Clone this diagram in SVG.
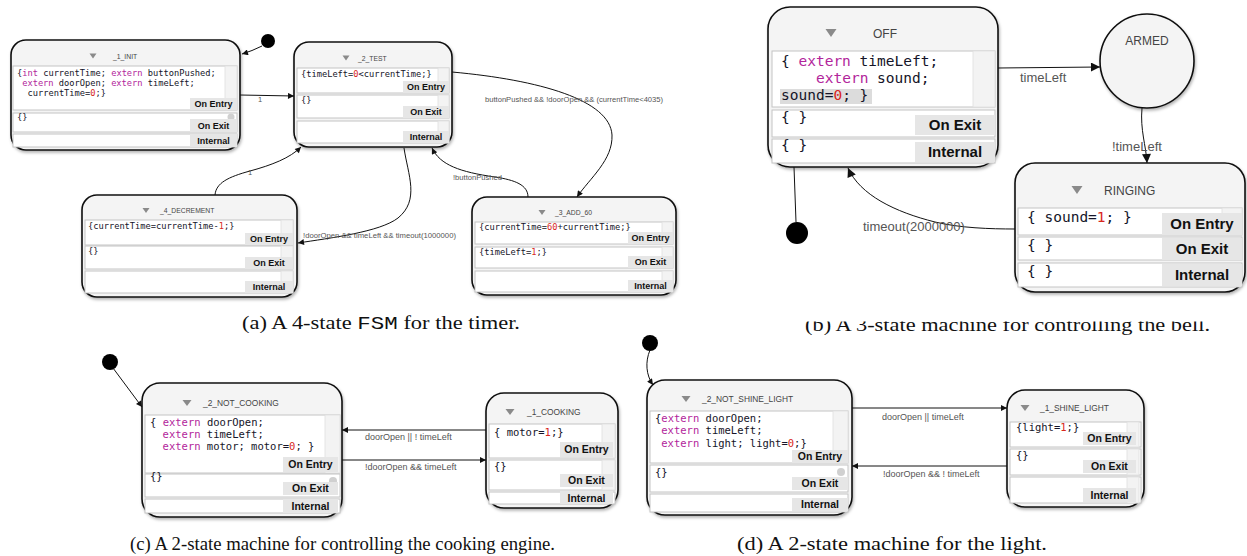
<svg xmlns="http://www.w3.org/2000/svg" width="1247" height="556" viewBox="0 0 1247 556">
<style>
.body{fill:#f4f4f4;stroke:#111;stroke-width:1.6}
.sec{fill:#fff;stroke:#c4c4c4;stroke-width:1}
.scr{fill:#f3f3f3;stroke:#dedede;stroke-width:0.8}
.lbl{fill:#e6e6e6}
.lt{font-family:"Liberation Sans",Arial,sans-serif;font-weight:bold;fill:#111;text-anchor:middle}
.code{font-family:"DejaVu Sans Mono",monospace;fill:#141428}
.kw{fill:#b2259b}
.num{fill:#d8271d}
.title{font-family:"Liberation Sans",Arial,sans-serif;fill:#444}
.tri{fill:#8a8a8a}
.edge{fill:none;stroke:#111;stroke-width:1}
.elab{font-family:"Liberation Sans",Arial,sans-serif;fill:#555}
.cap{font-family:"Liberation Serif","Times New Roman",serif;font-size:18.5px;fill:#111}
.mono{font-family:"Liberation Mono","Courier New",monospace}
.dot{fill:#000}
.knob{fill:#d0d0d0}
.a7 .code{font-size:8.7px}
.a7 .lt{font-size:9px}
.a7 .title{font-size:6.8px}
.b15 .code{font-size:14.5px}
.b15 .lt{font-size:15px}
.b15 .title{font-size:12px}
.c10 .code{font-size:10.5px}
.c10 .lt{font-size:10.5px}
.c10 .title{font-size:8.4px}
</style>
<defs>
<filter id="sh" x="-10%" y="-10%" width="125%" height="130%">
<feDropShadow dx="1" dy="2" stdDeviation="1.5" flood-color="#000" flood-opacity="0.3"/>
</filter>
<marker id="ma" viewBox="0 0 10 10" refX="10" refY="5" markerWidth="9" markerHeight="6" markerUnits="userSpaceOnUse" orient="auto"><path d="M0,0 L10,5 L0,10 z" fill="#111"/></marker>
<marker id="mb" viewBox="0 0 10 10" refX="10" refY="5" markerWidth="13" markerHeight="9" markerUnits="userSpaceOnUse" orient="auto"><path d="M0,0 L10,5 L0,10 z" fill="#111"/></marker>
<clipPath id="capb"><rect x="780" y="321.5" width="460" height="20"/></clipPath>
</defs>
<rect width="1247" height="556" fill="#fff"/>

<!-- ===== Panel (a) ===== -->
<g id="n_1_init" class="a7">
<rect class="body" x="11" y="40" width="229" height="110" rx="15" filter="url(#sh)"/>
<polygon class="tri" points="89.5,53.5 96.5,53.5 93,58.5"/>
<text class="title" x="113" y="58.5">_1_INIT</text>
<rect class="sec" x="13" y="66" width="224" height="44"/>
<rect class="scr" x="225" y="66" width="12" height="44"/>
<text class="code" x="17" y="76">{<tspan class="kw">int</tspan> currentTime; <tspan class="kw">extern</tspan> buttonPushed;</text>
<text class="code" x="22.2" y="86"><tspan class="kw">extern</tspan> doorOpen; <tspan class="kw">extern</tspan> timeLeft;</text>
<text class="code" x="27.5" y="96">currentTime=<tspan class="num">0</tspan>;}</text>
<rect class="lbl" x="190" y="98" width="47" height="12"/>
<text class="lt" x="213.5" y="107.3">On Entry</text>
<rect class="sec" x="13" y="113" width="224" height="19"/>
<text class="code" x="17" y="120">{}</text>
<circle class="knob" cx="231" cy="117" r="3.5"/>
<rect class="lbl" x="190" y="119" width="47" height="13"/>
<text class="lt" x="213.5" y="128.8">On Exit</text>
<rect class="sec" x="13" y="134" width="224" height="13"/>
<rect class="lbl" x="190" y="134" width="47" height="13"/>
<text class="lt" x="213.5" y="143.8">Internal</text>
</g>

<g id="n_2_test" class="a7">
<rect class="body" x="294" y="42" width="158" height="105" rx="15" filter="url(#sh)"/>
<polygon class="tri" points="342.5,55.5 349.5,55.5 346,60.5"/>
<text class="title" x="358" y="60.5">_2_TEST</text>
<rect class="sec" x="297" y="68" width="152" height="25"/>
<rect class="scr" x="438" y="68" width="11" height="25"/>
<text class="code" x="301" y="77">{timeLeft=<tspan class="num">0</tspan>&lt;currentTime;}</text>
<rect class="lbl" x="403" y="81" width="46" height="12"/>
<text class="lt" x="426" y="90.3">On Entry</text>
<rect class="sec" x="297" y="95" width="152" height="23"/>
<rect class="scr" x="438" y="95" width="11" height="23"/>
<text class="code" x="301" y="103">{}</text>
<rect class="lbl" x="403" y="106" width="46" height="12"/>
<text class="lt" x="426" y="115.3">On Exit</text>
<rect class="sec" x="297" y="121" width="152" height="22"/>
<rect class="scr" x="438" y="121" width="11" height="22"/>
<rect class="lbl" x="403" y="131" width="46" height="12"/>
<text class="lt" x="426" y="140.3">Internal</text>
</g>

<g id="n_4_decrement" class="a7">
<rect class="body" x="82" y="195" width="215" height="102" rx="15" filter="url(#sh)"/>
<polygon class="tri" points="142.5,208 149.5,208 146,213"/>
<text class="title" x="160" y="212.5">_4_DECREMENT</text>
<rect class="sec" x="85" y="220" width="208" height="25"/>
<rect class="scr" x="281" y="220" width="12" height="25"/>
<text class="code" x="88" y="229">{currentTime=currentTime-<tspan class="num">1</tspan>;}</text>
<rect class="lbl" x="245" y="233" width="48" height="12"/>
<text class="lt" x="269" y="242.3">On Entry</text>
<rect class="sec" x="85" y="246" width="208" height="23"/>
<rect class="scr" x="281" y="246" width="12" height="23"/>
<text class="code" x="88" y="254">{}</text>
<rect class="lbl" x="245" y="257" width="48" height="12"/>
<text class="lt" x="269" y="266.3">On Exit</text>
<rect class="sec" x="85" y="271" width="208" height="22"/>
<rect class="scr" x="281" y="271" width="12" height="22"/>
<rect class="lbl" x="245" y="281" width="48" height="12"/>
<text class="lt" x="269" y="290.3">Internal</text>
</g>

<g id="n_3_add_60" class="a7">
<rect class="body" x="472" y="197" width="204" height="98" rx="15" filter="url(#sh)"/>
<polygon class="tri" points="538.5,210 545.5,210 542,215"/>
<text class="title" x="555" y="214.5">_3_ADD_60</text>
<rect class="sec" x="475" y="222" width="198" height="22"/>
<rect class="scr" x="662" y="222" width="11" height="22"/>
<text class="code" x="479" y="230">{currentTime=<tspan class="num">60</tspan>+currentTime;}</text>
<rect class="lbl" x="628" y="232" width="45" height="12"/>
<text class="lt" x="650.5" y="241.3">On Entry</text>
<rect class="sec" x="475" y="247" width="198" height="21"/>
<rect class="scr" x="662" y="247" width="11" height="21"/>
<text class="code" x="479" y="255">{timeLeft=<tspan class="num">1</tspan>;}</text>
<rect class="lbl" x="628" y="256" width="45" height="12"/>
<text class="lt" x="650.5" y="265.3">On Exit</text>
<rect class="sec" x="475" y="271" width="198" height="21"/>
<rect class="scr" x="662" y="271" width="11" height="21"/>
<rect class="lbl" x="628" y="280" width="45" height="12"/>
<text class="lt" x="650.5" y="289.3">Internal</text>
</g>

<g id="init_a"><circle class="dot" cx="268" cy="41" r="7"/></g>

<!-- ===== Panel (b) ===== -->
<g id="n_off" class="b15">
<rect class="body" x="768" y="7" width="230" height="160" rx="22" filter="url(#sh)"/>
<polygon class="tri" points="825.5,29 836.5,29 831,37"/>
<text class="title" x="873" y="37.5">OFF</text>
<rect class="sec" x="772" y="51" width="223" height="56"/>
<rect class="scr" x="973" y="51" width="22" height="56"/>
<text class="code" x="781" y="66">{ <tspan class="kw">extern</tspan> timeLeft;</text>
<text class="code" x="816" y="83"><tspan class="kw">extern</tspan> sound;</text>
<rect x="780" y="89" width="92" height="15" fill="#dcdcdc"/>
<text class="code" x="781" y="100">sound=<tspan class="num">0</tspan>; }</text>
<rect class="sec" x="772" y="110" width="223" height="27"/>
<text class="code" x="781" y="122">{ }</text>
<rect class="lbl" x="915" y="115" width="80" height="20"/>
<text class="lt" x="955" y="130">On Exit</text>
<rect class="sec" x="772" y="139" width="223" height="24"/>
<text class="code" x="781" y="150">{ }</text>
<rect class="lbl" x="915" y="142" width="80" height="20"/>
<text class="lt" x="955" y="157">Internal</text>
</g>

<g id="n_armed" class="b15">
<circle class="body" cx="1147" cy="61" r="47" filter="url(#sh)"/>
<text class="title" x="1147" y="45" text-anchor="middle">ARMED</text>
</g>

<g id="n_ringing" class="b15">
<rect class="body" x="1015" y="163" width="230" height="129" rx="20" filter="url(#sh)"/>
<polygon class="tri" points="1071.5,186 1082.5,186 1077,194"/>
<text class="title" x="1104" y="195">RINGING</text>
<rect class="sec" x="1018" y="208" width="224" height="27"/>
<rect class="scr" x="1222" y="208" width="20" height="27"/>
<text class="code" x="1027" y="222">{ sound=<tspan class="num">1</tspan>; }</text>
<rect class="lbl" x="1162" y="213" width="80" height="22"/>
<text class="lt" x="1202" y="229">On Entry</text>
<rect class="sec" x="1018" y="237" width="224" height="23"/>
<text class="code" x="1027" y="250">{ }</text>
<rect class="lbl" x="1162" y="238" width="80" height="22"/>
<text class="lt" x="1202" y="254">On Exit</text>
<rect class="sec" x="1018" y="263" width="224" height="24"/>
<text class="code" x="1027" y="276">{ }</text>
<rect class="lbl" x="1162" y="264" width="80" height="22"/>
<text class="lt" x="1202" y="280">Internal</text>
</g>

<g id="init_b"><circle class="dot" cx="797" cy="233" r="11"/></g>

<!-- ===== Panel (c) ===== -->
<g id="n_2_not_cooking" class="c10">
<rect class="body" x="142" y="383" width="200" height="134" rx="18" filter="url(#sh)"/>
<polygon class="tri" points="182.5,400 191.5,400 187,406"/>
<text class="title" x="203" y="406">_2_NOT_COOKING</text>
<rect class="sec" x="145" y="415" width="195" height="58"/>
<rect class="scr" x="325" y="415" width="15" height="58"/>
<text class="code" x="150" y="426">{ <tspan class="kw">extern</tspan> doorOpen;</text>
<text class="code" x="162.6" y="438"><tspan class="kw">extern</tspan> timeLeft;</text>
<text class="code" x="162.6" y="450"><tspan class="kw">extern</tspan> motor; motor=<tspan class="num">0</tspan>; }</text>
<rect class="lbl" x="283" y="457" width="55" height="15"/>
<text class="lt" x="310.5" y="468">On Entry</text>
<rect class="sec" x="145" y="474" width="195" height="23"/>
<text class="code" x="150" y="480">{}</text>
<circle class="knob" cx="333" cy="481" r="4"/>
<rect class="lbl" x="283" y="482" width="55" height="13"/>
<text class="lt" x="310.5" y="492.3">On Exit</text>
<rect class="sec" x="145" y="499" width="195" height="14"/>
<rect class="lbl" x="283" y="499" width="55" height="14"/>
<text class="lt" x="310.5" y="510">Internal</text>
</g>

<g id="n_1_cooking" class="c10">
<rect class="body" x="486" y="393" width="132" height="115" rx="18" filter="url(#sh)"/>
<polygon class="tri" points="505.5,409 514.5,409 510,415"/>
<text class="title" x="527" y="415">_1_COOKING</text>
<rect class="sec" x="489" y="424" width="126" height="34"/>
<rect class="scr" x="602" y="424" width="13" height="34"/>
<text class="code" x="494" y="436">{ motor=<tspan class="num">1</tspan>;}</text>
<rect class="lbl" x="560" y="442" width="53" height="15"/>
<text class="lt" x="586.5" y="453">On Entry</text>
<rect class="sec" x="489" y="460" width="126" height="30"/>
<rect class="scr" x="602" y="460" width="13" height="30"/>
<text class="code" x="494" y="470">{}</text>
<rect class="lbl" x="560" y="474" width="53" height="13"/>
<text class="lt" x="586.5" y="484.3">On Exit</text>
<rect class="sec" x="489" y="492" width="126" height="12"/>
<rect class="lbl" x="560" y="491" width="53" height="13"/>
<text class="lt" x="586.5" y="501.5">Internal</text>
</g>

<g id="init_c"><circle class="dot" cx="110" cy="362" r="8"/></g>

<!-- ===== Panel (d) ===== -->
<g id="n_2_not_shine_light" class="c10">
<rect class="body" x="647" y="380" width="205" height="135" rx="18" filter="url(#sh)"/>
<polygon class="tri" points="681.5,396 690.5,396 686,402"/>
<text class="title" x="702" y="402">_2_NOT_SHINE_LIGHT</text>
<rect class="sec" x="650" y="411" width="198" height="52"/>
<rect class="scr" x="833" y="411" width="15" height="52"/>
<text class="code" x="655" y="422">{<tspan class="kw">extern</tspan> doorOpen;</text>
<text class="code" x="661.3" y="434"><tspan class="kw">extern</tspan> timeLeft;</text>
<text class="code" x="661.3" y="447"><tspan class="kw">extern</tspan> light; light=<tspan class="num">0</tspan>;}</text>
<rect class="lbl" x="792" y="450" width="56" height="13"/>
<text class="lt" x="820" y="460.3">On Entry</text>
<rect class="sec" x="650" y="465" width="198" height="27"/>
<text class="code" x="655" y="476">{}</text>
<circle class="knob" cx="841" cy="472" r="4"/>
<rect class="lbl" x="792" y="477" width="56" height="13"/>
<text class="lt" x="820" y="487.3">On Exit</text>
<rect class="sec" x="650" y="494" width="198" height="18"/>
<rect class="lbl" x="792" y="498" width="56" height="13"/>
<text class="lt" x="820" y="508.3">Internal</text>
</g>

<g id="n_1_shine_light" class="c10">
<rect class="body" x="1007" y="390" width="137" height="117" rx="18" filter="url(#sh)"/>
<polygon class="tri" points="1020.5,405 1029.5,405 1025,411"/>
<text class="title" x="1040" y="411">_1_SHINE_LIGHT</text>
<rect class="sec" x="1010" y="422" width="131" height="25"/>
<rect class="scr" x="1127" y="422" width="12" height="25"/>
<text class="code" x="1016" y="431">{light=<tspan class="num">1</tspan>;}</text>
<rect class="lbl" x="1083" y="432" width="53" height="13"/>
<text class="lt" x="1109.5" y="442.3">On Entry</text>
<rect class="sec" x="1010" y="449" width="131" height="26"/>
<rect class="scr" x="1127" y="449" width="12" height="26"/>
<text class="code" x="1016" y="459">{}</text>
<rect class="lbl" x="1083" y="460" width="53" height="13"/>
<text class="lt" x="1109.5" y="470.3">On Exit</text>
<rect class="sec" x="1010" y="477" width="131" height="26"/>
<rect class="scr" x="1127" y="477" width="12" height="26"/>
<rect class="lbl" x="1083" y="488" width="53" height="14"/>
<text class="lt" x="1109.5" y="498.8">Internal</text>
</g>

<g id="init_d"><circle class="dot" cx="650" cy="343" r="8"/></g>

<!-- ===== Connectors ===== -->
<g id="connectors">
<path class="edge" d="M262,46 Q252,51 242,54" marker-end="url(#ma)"/>
<path class="edge" d="M240,95 L294,96" marker-end="url(#ma)"/>
<text class="elab" x="258" y="102" font-size="7.5">1</text>
<path class="edge" d="M215,195 C216,183 228,177 250,171 C272,165 290,158 301,147" marker-end="url(#ma)"/>
<text class="elab" x="248" y="175" font-size="7.5">1</text>
<path class="edge" d="M404,148 C408,175 420,200 398,218 C380,232 330,238 298,243" marker-end="url(#ma)"/>
<text class="elab" x="303" y="238" font-size="7.7">!doorOpen &amp;&amp; timeLeft &amp;&amp; timeout(1000000)</text>
<path class="edge" d="M452,72 C540,80 610,100 612,135 C613,160 590,178 577,197" marker-end="url(#ma)"/>
<text class="elab" x="485" y="102" font-size="7.6">buttonPushed &amp;&amp; !doorOpen &amp;&amp; (currentTime&lt;4035)</text>
<path class="edge" d="M528,197 C528,185 515,180 495,177 C460,172 440,165 432,148" marker-end="url(#ma)"/>
<text class="elab" x="453" y="179.5" font-size="7.6">!buttonPushed</text>

<path class="edge" d="M998,68 L1100,67" marker-end="url(#mb)"/>
<text class="elab" x="1020" y="82" font-size="13" fill="#444">timeLeft</text>
<path class="edge" d="M1142,108 C1140,130 1146,145 1147,163" marker-end="url(#mb)"/>
<text class="elab" x="1112" y="151" font-size="13" fill="#444">!timeLeft</text>
<path class="edge" d="M1015,229 C990,229 960,228 935,222 C895,212 860,195 848,168" marker-end="url(#mb)"/>
<text class="elab" x="863" y="231" font-size="13" fill="#444">timeout(2000000)</text>
<path class="edge" d="M794,167 L796,222"/>

<path class="edge" d="M113,368 L142,407" marker-end="url(#ma)"/>
<path class="edge" d="M486,430 L342,430" marker-end="url(#ma)"/>
<text class="elab" x="365" y="439.5" font-size="9">doorOpen || ! timeLeft</text>
<path class="edge" d="M342,460 L486,460" marker-end="url(#ma)"/>
<text class="elab" x="365" y="469.5" font-size="9">!doorOpen &amp;&amp; timeLeft</text>

<path class="edge" d="M650,350 C645,362 646,375 653,385" marker-end="url(#ma)"/>
<path class="edge" d="M852,408 L1007,408" marker-end="url(#ma)"/>
<text class="elab" x="882" y="419.5" font-size="9">doorOpen || timeLeft</text>
<path class="edge" d="M1007,466 L852,466" marker-end="url(#ma)"/>
<text class="elab" x="883" y="476.5" font-size="9">!doorOpen &amp;&amp; ! timeLeft</text>
</g>

<!-- ===== Captions ===== -->
<text class="cap" x="242" y="329" textLength="278" lengthAdjust="spacingAndGlyphs">(a) A 4-state <tspan class="mono">FSM</tspan> for the timer.</text>
<g clip-path="url(#capb)">
<text class="cap" x="805" y="331" textLength="405" lengthAdjust="spacingAndGlyphs">(b) A 3-state machine for controlling the bell.</text>
</g>
<text class="cap" x="130" y="550" textLength="425" lengthAdjust="spacingAndGlyphs">(c) A 2-state machine for controlling the cooking engine.</text>
<text class="cap" x="737" y="550" textLength="310" lengthAdjust="spacingAndGlyphs">(d) A 2-state machine for the light.</text>
</svg>
